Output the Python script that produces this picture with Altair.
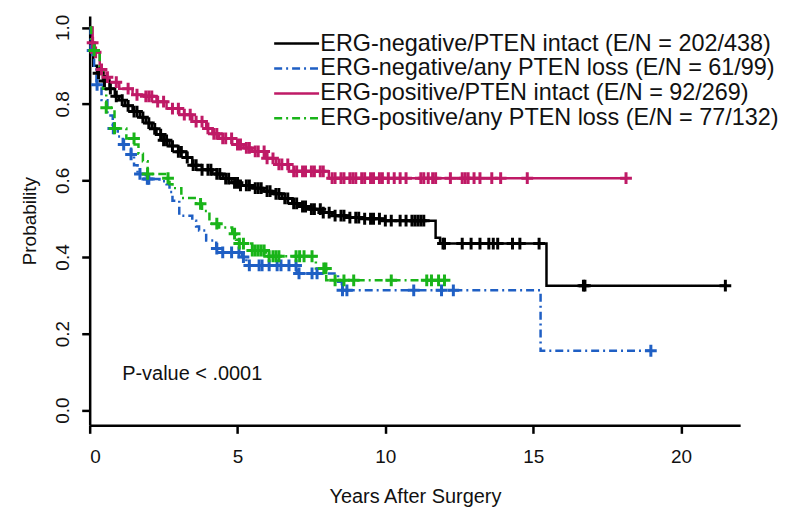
import altair as alt
import pandas as pd
import numpy as np

groups = [
    "ERG-negative/PTEN intact (E/N = 202/438)",
    "ERG-negative/any PTEN loss (E/N = 61/99)",
    "ERG-positive/PTEN intact (E/N = 92/269)",
    "ERG-positive/any PTEN loss (E/N = 77/132)",
]
colors = ["#000000", "#1f5fc4", "#bf1a66", "#19b419"]
dashes = [[1, 0], [8, 4, 2, 4], [1, 0], [8, 4, 2, 4]]

# Kaplan-Meier step points (years, survival probability)
black_t = [0, 0.05, 0.12, 0.25, 0.45, 0.67, 0.85, 1.0, 1.2, 1.45, 1.7, 1.9, 2.1, 2.26, 2.5, 2.7,
           3.0, 3.27, 3.47, 3.8, 4.15, 4.5, 4.8, 5.1, 5.5, 5.9, 6.2, 6.5, 6.85, 7.2, 7.5, 7.85,
           8.2, 8.8, 9.3, 9.9, 11.7, 11.85, 15.45, 21.5]
black_p = [1.0, 0.95, 0.90, 0.88, 0.86, 0.84, 0.82, 0.81, 0.795, 0.78, 0.765, 0.75, 0.735, 0.72,
           0.705, 0.69, 0.675, 0.66, 0.64, 0.628, 0.617, 0.605, 0.594, 0.587, 0.58, 0.572, 0.565,
           0.553, 0.54, 0.532, 0.525, 0.516, 0.508, 0.503, 0.5, 0.495, 0.45, 0.435, 0.325, 0.325]
black_c = [0.3, 0.5, 0.7, 0.9, 1.1, 1.3, 1.5, 1.6, 1.8, 2.0, 2.2, 2.4, 2.5, 2.6, 2.8, 3.0, 3.1,
           3.3, 3.5, 3.6, 3.8, 4.0, 4.1, 4.3, 4.4, 4.6, 4.7, 4.9, 5.0, 5.1, 5.3, 5.4, 5.6, 5.7,
           5.8, 6.0, 6.1, 6.3, 6.4, 6.6, 6.7, 6.9, 7.0, 7.2, 7.3, 7.5, 7.6, 7.8, 7.9, 8.1, 8.3,
           8.5, 8.6, 8.8, 9.0, 9.1, 9.3, 9.5, 9.6, 9.8, 10.0, 10.2, 10.5, 10.7, 10.9, 11.0, 11.1,
           11.2, 11.3, 11.95, 12.0, 12.6, 12.9, 13.2, 13.5, 13.65, 13.8, 14.3, 14.55, 15.2, 16.7,
           16.75, 21.5]

blue_t = [0, 0.03, 0.15, 0.23, 0.4, 0.6, 0.78, 0.95, 1.12, 1.4, 1.5, 1.62, 1.9, 2.36, 2.6, 2.7,
          2.8, 3.03, 3.47, 3.6, 3.7, 3.94, 4.28, 4.5, 5.16, 5.3, 7.0, 8.4, 8.53, 15.25, 18.98]
blue_p = [1.0, 0.94, 0.90, 0.85, 0.81, 0.77, 0.736, 0.715, 0.694, 0.668, 0.64, 0.617, 0.604,
          0.598, 0.59, 0.57, 0.547, 0.508, 0.495, 0.48, 0.469, 0.443, 0.422, 0.412, 0.40, 0.378,
          0.357, 0.335, 0.313, 0.155, 0.155]
blue_c = [0.1, 0.25, 0.8, 1.15, 1.4, 1.7, 1.95, 2.0, 4.3, 4.5, 4.8, 5.05, 5.2, 5.4, 5.73, 5.83,
          6.07, 6.34, 6.47, 6.74, 6.98, 7.08, 7.52, 7.69, 8.55, 8.7, 10.96, 11.9, 12.3, 18.98]

mag_t = [0, 0.1, 0.17, 0.34, 0.5, 0.67, 1.0, 1.45, 1.9, 2.26, 2.6, 3.03, 3.47, 3.94, 4.15, 4.38,
         4.82, 5.2, 5.5, 5.96, 6.3, 6.74, 8.09, 18.14]
mag_p = [1.0, 0.96, 0.935, 0.89, 0.87, 0.857, 0.84, 0.824, 0.82, 0.806, 0.788, 0.772, 0.754,
         0.736, 0.722, 0.71, 0.694, 0.685, 0.676, 0.658, 0.642, 0.624, 0.606, 0.606]
mag_c = [0.1, 0.2, 0.4, 0.6, 0.9, 1.3, 1.6, 1.9, 2.0, 2.1, 2.3, 2.5, 2.8, 3.0, 3.2, 3.4, 3.6, 3.8,
         4.0, 4.2, 4.3, 4.5, 4.6, 4.8, 5.0, 5.1, 5.3, 5.4, 5.6, 5.7, 5.9, 6.0, 6.2, 6.4, 6.5, 6.7,
         6.9, 7.0, 7.2, 7.3, 7.5, 7.6, 7.8, 7.9, 8.2, 8.3, 8.5, 8.6, 8.8, 8.9, 9.0, 9.2, 9.3, 9.5,
         9.6, 9.8, 9.9, 10.1, 10.3, 10.5, 10.7, 11.2, 11.3, 11.45, 11.6, 11.7, 12.2, 12.6, 12.7,
         12.8, 13.0, 13.2, 13.6, 13.9, 14.8, 18.14]

green_t = [0, 0.05, 0.15, 0.34, 0.45, 0.56, 0.84, 1.24, 1.52, 1.65, 1.8, 1.96, 2.6, 2.7, 2.8,
           3.1, 3.6, 3.8, 4.05, 4.38, 4.82, 4.95, 5.06, 5.5, 5.96, 7.65, 8.0, 12.0]
green_p = [1.0, 0.96, 0.94, 0.89, 0.84, 0.79, 0.736, 0.71, 0.694, 0.67, 0.65, 0.617, 0.606, 0.59,
           0.58, 0.554, 0.539, 0.52, 0.487, 0.477, 0.461, 0.445, 0.435, 0.417, 0.402, 0.37,
           0.339, 0.339]
green_c = [0.15, 0.56, 0.84, 1.5, 1.96, 2.65, 3.75, 4.3, 4.9, 5.06, 5.2, 5.5, 5.6, 5.7, 5.8, 5.9,
           6.07, 6.2, 6.3, 6.4, 6.98, 7.1, 7.25, 7.52, 7.92, 7.99, 8.3, 8.6, 8.93, 10.2, 11.4,
           11.56, 11.8, 12.0]

curves = [(black_t, black_p, black_c), (blue_t, blue_p, blue_c),
          (mag_t, mag_p, mag_c), (green_t, green_p, green_c)]

line_rows, cens_rows = [], []
for g, col, (ts, ps, cs) in zip(groups, colors, curves):
    for i, (t, p) in enumerate(zip(ts, ps)):
        line_rows.append({"group": g, "t": t, "p": p, "i": i})
    ta = np.array(ts)
    for c in cs:
        k = int(np.searchsorted(ta, c, side="right")) - 1
        cens_rows.append({"group": g, "t": c, "p": ps[k], "col": col})

lines_df = pd.DataFrame(line_rows)
cens_df = pd.DataFrame(cens_rows)

pval_text = ["P-value < .0001"]
pval_pos_t = [1.1]
pval_pos_p = [0.093]
pval_df = pd.DataFrame({"t": pval_pos_t, "p": pval_pos_p, "label": pval_text})

FONT = "Liberation Sans"

xscale = alt.Scale(domain=[0, 22], nice=False, zero=False)
yscale = alt.Scale(domain=[-0.04, 1.03], nice=False, zero=False)

xaxis = alt.Axis(values=[0, 5, 10, 15, 20], title="Years After Surgery", grid=False,
                 labelFontSize=19, titleFontSize=20, labelPadding=14, titlePadding=20,
                 format="d")
yaxis = alt.Axis(values=[0, 0.2, 0.4, 0.6, 0.8, 1.0], format=".1f", title="Probability",
                 grid=False, labelFontSize=19, titleFontSize=19, labelAngle=270,
                 labelAlign="center", labelBaseline="bottom", labelPadding=9, titlePadding=14)

lines = alt.Chart(lines_df).mark_line(interpolate="step-after", strokeWidth=2.5).encode(
    x=alt.X("t:Q", scale=xscale, axis=xaxis),
    y=alt.Y("p:Q", scale=yscale, axis=yaxis),
    color=alt.Color("group:N", scale=alt.Scale(domain=groups, range=colors),
                    legend=alt.Legend(orient="none", legendX=196, legendY=16, title=None,
                                      labelFontSize=23.5, labelFont=FONT, labelColor="#111",
                                      symbolType="M-4,0H4", symbolSize=127,
                                      symbolStrokeWidth=2.5, rowPadding=0, labelOffset=12,
                                      labelLimit=0)),
    strokeDash=alt.StrokeDash("group:N", scale=alt.Scale(domain=groups, range=dashes)),
    order="i:Q",
)

cens = alt.Chart(cens_df).mark_point(shape="M-1,0H1M0,-1V1", size=140, filled=False,
                                     strokeWidth=3, opacity=1).encode(
    x="t:Q", y="p:Q", color=alt.Color("col:N", scale=None),
)

ptext = alt.Chart(pval_df).mark_text(align="left", baseline="middle", fontSize=20,
                                     font=FONT, color="#111").encode(
    x="t:Q", y="p:Q", text="label:N")

chart = alt.layer(lines, cens, ptext).properties(
    width=653, height=411,
    padding={"left": 82, "top": 7, "right": 38, "bottom": 84},
    autosize=alt.AutoSizeParams(type="none"),
).configure_view(stroke=None).configure_axis(
    domainColor="black", domainWidth=2.5, tickColor="black", tickWidth=2.5, tickSize=8,
    labelColor="#111", titleColor="#111", labelFont=FONT, titleFont=FONT,
    titleFontWeight="normal",
)

chart.save("out.html", embed_options={"renderer": "svg", "actions": False})
